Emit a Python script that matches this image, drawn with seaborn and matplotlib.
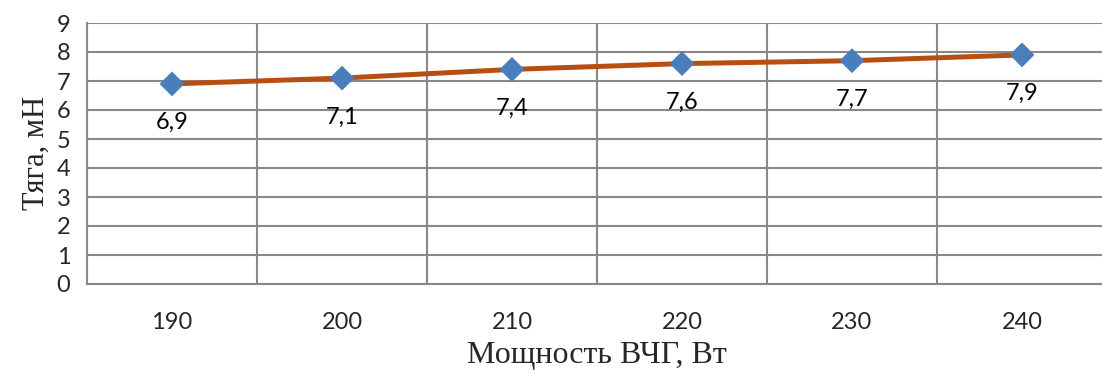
import matplotlib
matplotlib.use("Agg")
import matplotlib.pyplot as plt
import numpy as np
import seaborn as sns

# data
power = ["190", "200", "210", "220", "230", "240"]
thrust = [6.9, 7.1, 7.4, 7.6, 7.7, 7.9]
thrust_labels = ["6,9", "7,1", "7,4", "7,6", "7,7", "7,9"]
y_ticks = list(range(0, 10))

sns.set_style("white")
plt.rcParams["font.family"] = ["Lato", "DejaVu Sans"]

fig = plt.figure(figsize=(11.02, 3.74), dpi=100)
ax = fig.add_axes([87 / 1102, 90 / 374, 1020 / 1102, 261 / 374])

pos = np.arange(len(power))
sns.lineplot(x=pos, y=thrust, ax=ax, color="#B84F12", linewidth=3.6, zorder=3)
sns.scatterplot(x=pos, y=thrust, ax=ax, marker="D", s=160, color="#4A7EBB",
                edgecolor="none", zorder=4)

for x, y, lab in zip(pos, thrust, thrust_labels):
    ax.annotate(lab, (x, y), xytext=(0, -28), textcoords="offset points",
                ha="center", va="center", fontsize=17, color="black")

ax.set_xlim(-0.5, len(power) - 0.5)
ax.set_ylim(0, 9)
ax.set_yticks(y_ticks)
ax.set_xticks(pos)
ax.set_xticklabels(power)
ax.set_xticks(np.arange(len(power) + 1) - 0.5, minor=True)

ax.tick_params(axis="x", which="major", length=0, labelsize=17, pad=20)
ax.tick_params(axis="x", which="minor", length=7, width=1.5, color="#888888")
ax.tick_params(axis="y", length=9, width=1.5, color="#888888", labelsize=17, pad=3)

ax.grid(axis="y", which="major", color="#888888", linewidth=1.5)
ax.grid(axis="x", which="minor", color="#888888", linewidth=1.5)
ax.grid(axis="x", which="major", visible=False)
ax.set_axisbelow(True)

for side in ["top", "right"]:
    ax.spines[side].set_visible(False)
for side in ["left", "bottom"]:
    ax.spines[side].set_color("#888888")
    ax.spines[side].set_linewidth(1.5)

ax.set_xlabel("Мощность ВЧГ, Вт", fontsize=23, family="Liberation Serif", labelpad=6)
ax.set_ylabel("Тяга, мН", fontsize=22, family="Liberation Serif", labelpad=4)

fig.savefig("out.png", dpi=100)
